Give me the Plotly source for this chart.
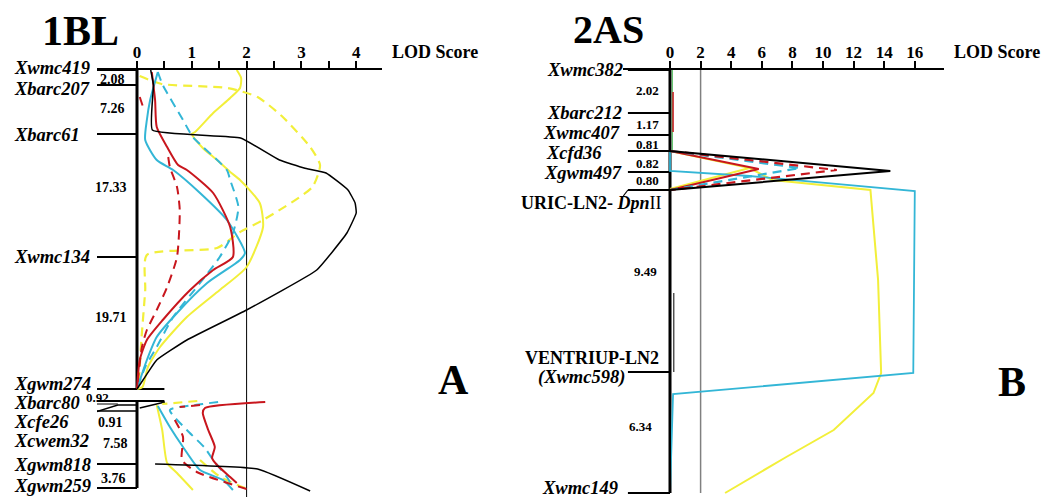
import plotly.graph_objects as go

# ---------------- Chromosome 1BL ----------------
bl_markers = ["Xwmc419", "Xbarc207", "Xbarc61", "Xwmc134", "Xgwm274",
              "Xbarc80", "Xcfe26", "Xcwem32", "Xgwm818", "Xgwm259"]
bl_pos = [0, 15, 64, 187, 319, 331, 335, 341, 394, 418]
bl_intervals = ["2.08", "7.26", "17.33", "19.71", "0.92", "0.91", "7.58", "3.76"]
bl_ticks = [0, 0.5, 1, 1.5, 2, 2.5, 3, 3.5, 4]
bl_ticktext = ["0", "", "1", "", "2", "", "3", "", "4"]

# LOD profiles along 1BL (lod, map position); None separates pieces
bl_black_lod = [0.25, 0.3, 0.28, 1.89, 2.6, 3.05, 3.45, 3.85, 3.98, 4.0, 3.83, 3.28, 2.0, 0.91, 0.36, 0.11, 0,
                None, 0.33, 2.2, 3.16]
bl_black_pos = [0, 15, 60, 68, 90, 98, 103, 120, 133, 143, 163, 200, 240, 270, 290, 310, 319,
                None, 394, 399, 421]
bl_yellow_lod = [1.82, 1.9, 1.88, 1.7, 1.39, 1.06, 1.0, 1.2, 1.46, 1.7, 1.88, 2.24, 2.3, 2.0, 1.51, 0.91,
                 0.42, 0.2, 0.1, 0,
                 None, 0.36, 0.46, 0.55, 0.73, 1.02]
bl_yellow_pos = [0, 8, 18, 28, 43, 62, 64, 78, 90, 102, 110, 133, 157, 197, 220, 247,
                 277, 297, 317, 319,
                 None, 335, 360, 393, 403, 420]
bl_yellow_d_lod = [0.05, 0.45, 1.65, 2.2, 2.66, 3.16, 3.34, 3.2, 2.3, 1.88, 1.46, 0.18, 0.15, 0.08, 0.03,
                   None, 1.1, 0.46, None, 1.15, 1.52, 2.06]
bl_yellow_d_pos = [6, 14, 18, 27, 47, 77, 95, 117, 150, 162, 178, 185, 220, 270, 315,
                   None, 331, 334, None, 390, 407, 420]
bl_cyan_lod = [0.38, 0.24, 0.18, 0.15, 0.36, 0.66, 1.15, 1.64, 1.97, 1.88, 1.28, 0.73, 0.36, 0.18, 0,
               None, 0.38, 0.6, 0.84, 1.15, 1.57, 1.75]
bl_cyan_pos = [2, 30, 50, 70, 90, 100, 123, 150, 183, 190, 213, 243, 267, 290, 319,
               None, 336, 357, 377, 400, 410, 420]
bl_cyan_d_lod = [0.38, 0.47, 0.84, 1.02, 1.64, 1.7, 1.85, 1.75, 1.51, 1.15, 0.66, 0.36, 0.15, 0,
                 None, 1.48, 1.2, 0.6, 0.91, 1.24, 1.39, 1.64, 1.75]
bl_cyan_d_pos = [2, 15, 50, 67, 100, 110, 137, 163, 187, 213, 247, 277, 297, 319,
                 None, 332, 334, 340, 360, 378, 390, 407, 417]
bl_red_lod = [0.27, 0.33, 0.36, 0.55, 0.75, 0.91, 1.39, 1.7, 1.75, 1.39, 0.97, 0.47, 0.18, 0.05, 0,
              None, 2.34, 1.24, 1.2, 1.3, 1.42, 1.37, 1.46, 1.7, 1.82]
bl_red_pos = [2, 30, 57, 77, 95, 100, 123, 157, 187, 200, 220, 250, 270, 290, 319,
              None, 332, 338, 343, 360, 377, 388, 395, 407, 413]
bl_red_d_lod = [0.05, 0.11, None, 0.57, 0.6, 0.73, 0.78, 0.73, 0.55, 0.36, 0.18, 0.09, 0,
                None, 1.15, 0.78, None, 0.69, 0.84, 0.82, 1.09, 2.06]
bl_red_d_pos = [27, 37, None, 87, 97, 117, 140, 187, 217, 240, 260, 277, 319,
                None, 335, 337, None, 350, 367, 390, 402, 420]

# ---------------- Chromosome 2AS ----------------
as_markers = ["Xwmc382", "Xbarc212", "Xwmc407", "Xcfd36", "Xgwm497",
              "URIC-LN2- ", "VENTRIUP-LN2", "Xwmc149"]
as_pos = [0, 43, 65, 81, 102, 120, 302, 423]
as_intervals = ["2.02", "1.17", "0.81", "0.82", "0.80", "9.49", "6.34"]
as_ticks = [0, 2, 4, 6, 8, 10, 12, 14, 16]
as_ticktext = ["0", "2", "4", "6", "8", "10", "12", "14", "16"]

as_black_lod = [0, 0, 14.4, 0, 0]
as_black_pos = [0, 81, 101, 120, 423]
as_red_d_lod = [0, 10.9, 0]
as_red_d_pos = [81, 100, 120]
as_cyan_d_lod = [0, 8.5, 0]
as_cyan_d_pos = [81, 98, 120]
as_red_lod = [0, 5.8, 0]
as_red_pos = [81, 99, 120]
as_yellow_lod = [0, 0, 5.2, 6.7, 13.1, 13.6, 13.8, 13.3, 10.7, 7.6, 3.6]
as_yellow_pos = [0, 81, 98, 110, 120, 210, 303, 323, 360, 387, 423]
as_yellow2_lod = [5.2, 0]
as_yellow2_pos = [98, 119]
as_cyan_lod = [0, 0, 5.2, 16.0, 15.9, 0.2, 0]
as_cyan_pos = [0, 101, 106, 121, 303, 324, 423]

RED = "#c8161d"
CYAN = "#33b6d6"
YELLOW = "#f2ef3a"
SERIF = "Liberation Serif"

W, H = 1046, 499
# pixel geometry of the two LOD scales and the shared map axis
BL_ZERO, BL_UNIT = 137, 54.8
AS_ZERO, AS_UNIT = 670, 15.3
MAP_TOP = 70

fig = go.Figure()


def line(x, y, color, width, xa="x", dash="solid", shape="linear", smoothing=0.6):
    fig.add_trace(go.Scatter(x=x, y=y, mode="lines", xaxis=xa, yaxis="y",
                             line=dict(color=color, width=width, dash=dash, shape=shape,
                                       smoothing=smoothing),
                             connectgaps=False, hoverinfo="skip", showlegend=False))


DASH = "9px,6px"

# ---- 1BL panel ----
line([2, 2], [0, 427], "black", 1)
line([0, 0], [bl_pos[0], bl_pos[4]], "black", 3)
line([0, 0], [bl_pos[5], bl_pos[9]], "black", 3)
for i, p in enumerate(bl_pos):
    if i in (6, 7):
        continue
    right = 0.5 if i in (4, 5) else 0
    line([-0.73, right], [p, p], "black", 2)
# connectors for the crowded lower markers
line([-1.22, -0.35, 0], [350, bl_pos[6], bl_pos[6]], "black", 1.5)
line([-1.08, -0.73, 0], [365, bl_pos[7], bl_pos[7]], "black", 1.5)
line([-0.8, -0.35], [334, 334], "black", 1)
line([0.05, 0.51], [338, 332], "black", 1.5)

line(bl_yellow_d_lod, bl_yellow_d_pos, YELLOW, 2.2, dash=DASH, shape="spline")
line(bl_yellow_lod, bl_yellow_pos, YELLOW, 2, shape="spline")
line(bl_cyan_d_lod, bl_cyan_d_pos, CYAN, 2, dash=DASH, shape="spline")
line(bl_cyan_lod, bl_cyan_pos, CYAN, 2, shape="spline")
line(bl_red_d_lod, bl_red_d_pos, RED, 2, dash=DASH, shape="spline")
line(bl_red_lod, bl_red_pos, RED, 2, shape="spline")
line(bl_black_lod, bl_black_pos, "black", 1.5, shape="spline", smoothing=0.35)

# ---- 2AS panel ----
line([2, 2], [0, 423], "#808080", 1.5, xa="x2")
line([0, 0], [as_pos[0], as_pos[-1]], "black", 3, xa="x2")
line([0.25, 0.25], [223, 302], "black", 1, xa="x2")
for p in as_pos:
    line([-2.75, 0], [p, p], "black", 2, xa="x2")
line([-3.05, -2.75], [126, as_pos[5]], "black", 1.2, xa="x2")
line([0.15, 0.15], [0, 81], "#3cb44b", 1, xa="x2")
line([0.2, 0.2], [22, 62], RED, 1.5, xa="x2")

line(as_yellow_lod, as_yellow_pos, YELLOW, 2, xa="x2")
line(as_yellow2_lod, as_yellow2_pos, YELLOW, 2, xa="x2")
line(as_cyan_lod, as_cyan_pos, CYAN, 1.8, xa="x2")
line(as_red_lod, as_red_pos, RED, 1.8, xa="x2")
line(as_cyan_d_lod, as_cyan_d_pos, CYAN, 2.2, xa="x2", dash=DASH)
line(as_red_d_lod, as_red_d_pos, RED, 2.2, xa="x2", dash=DASH)
line(as_black_lod, as_black_pos, "black", 2, xa="x2")

# ---- text (placed in paper space so labels outside the axis ranges still show) ----
ann = []


def text(lod, pos, s, size, panel="bl", xanchor="center", bold=True):
    px = (BL_ZERO + BL_UNIT * lod) if panel == "bl" else (AS_ZERO + AS_UNIT * lod)
    py = MAP_TOP + pos
    ann.append(dict(x=px / W, y=1 - py / H, xref="paper", yref="paper",
                    text=(f"<b>{s}</b>" if bold else s),
                    showarrow=False, xanchor=xanchor, yanchor="middle",
                    font=dict(family=SERIF, size=size, color="black")))


bl_label_y = [-2, 19, 65, 187, 314, 333, 352, 371, 395, 416]
for name, y in zip(bl_markers, bl_label_y):
    text(-2.28, y, f"<i>{name}</i>", 18.5, xanchor="left")
bl_int_x = [-0.44, -0.44, -0.47, -0.47, -0.72, -0.49, -0.4, -0.42]
bl_int_y = [9, 38, 117, 247, 327, 352, 373, 408]
for s, x, y in zip(bl_intervals, bl_int_x, bl_int_y):
    text(x, y, s, 14 if x != -0.72 else 13)

as_label_x = [-2.94, -3.0, -3.14, -4.31, -3.0, -0.39, -0.59, -3.27]
as_label_y = [0, 43, 63, 83, 103, 133, 288, 418]
for i, (name, x, y) in enumerate(zip(as_markers, as_label_x, as_label_y)):
    if i == 5:
        text(x, y, f"<b>{name}<i>Dpn</i></b>II", 18, panel="as", xanchor="right", bold=False)
    elif i == 6:
        text(x, y, name, 18, panel="as", xanchor="right")
        text(-2.81, 307, "<i>(Xwmc598)</i>", 18.5, panel="as", xanchor="right")
    else:
        text(x, y, f"<i>{name}</i>", 18.5, panel="as", xanchor="right")
as_int_y = [21, 54, 74, 93, 110, 201, 356]
as_int_x = [-1.5, -1.5, -1.5, -1.5, -1.5, -1.63, -1.9]
for s, x, y in zip(as_intervals, as_int_x, as_int_y):
    text(x, y, s, 13, panel="as")

text(-1.04, -39, "1BL", 42)
text(-3.99, -40, "2AS", 40, panel="as")
text(5.44, -18, "LOD Score", 18)
text(21.37, -18, "LOD Score", 18, panel="as")
text(5.78, 310, "A", 42)
text(22.35, 312, "B", 42, panel="as")

axis_common = dict(side="top", anchor="y", showline=True, linecolor="black", linewidth=2,
                   ticks="outside", ticklen=7, tickwidth=1.5, tickcolor="black",
                   showgrid=False, zeroline=False, ticklabelstandoff=-4,
                   tickfont=dict(family=SERIF, size=17, color="black", weight="bold"))

fig.update_layout(
    width=W, height=H, margin=dict(l=0, r=0, t=0, b=0),
    paper_bgcolor="white", plot_bgcolor="white",
    xaxis=dict(domain=[97 / W, 382 / W], range=[-40 / BL_UNIT, 245 / BL_UNIT],
               tickmode="array", tickvals=bl_ticks, ticktext=bl_ticktext, **axis_common),
    xaxis2=dict(domain=[623 / W, 944 / W], range=[-47 / AS_UNIT, 274 / AS_UNIT],
                tickmode="array", tickvals=as_ticks, ticktext=as_ticktext, **axis_common),
    yaxis=dict(domain=[0, (H - MAP_TOP) / H], range=[H - MAP_TOP, 0], visible=False),
    annotations=ann,
)

fig.write_html("out.html")
